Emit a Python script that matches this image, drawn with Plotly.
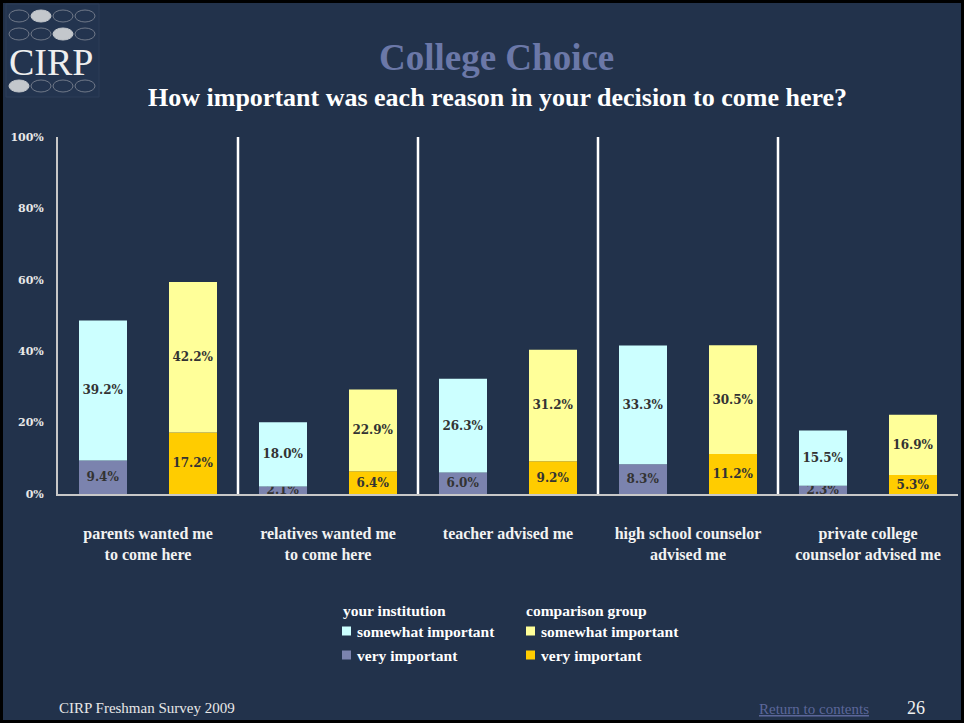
import plotly.graph_objects as go

categories = ["parents wanted me<br>to come here",
              "relatives wanted me<br>to come here",
              "teacher advised me",
              "high school counselor<br>advised me",
              "private college<br>counselor advised me"]
inst_very = [9.4, 2.1, 6.0, 8.3, 2.3]
inst_somewhat = [39.2, 18.0, 26.3, 33.3, 15.5]
comp_very = [17.2, 6.4, 9.2, 11.2, 5.3]
comp_somewhat = [42.2, 22.9, 31.2, 30.5, 16.9]
y_ticks = [0, 20, 40, 60, 80, 100]
y_ticktext = ["0%", "20%", "40%", "60%", "80%", "100%"]

BG = "#22324b"
C_CYAN = "#ccffff"
C_SLATE = "#7b83ae"
C_LYEL = "#ffff99"
C_GOLD = "#ffcc00"

W, H = 964, 723
L, R, T, B = 58, 6, 137, 229
PW, PH = W - L - R, H - T - B

def px(x):
    return (x - L) / PW

def py(y):
    return (H - B - y) / PH

n = len(categories)
xi = list(range(n))
x_inst = [i - 0.25 for i in xi]
x_comp = [i + 0.25 for i in xi]
bw = 48 / 180

lblfont = dict(family="DejaVu Serif", size=12, color="#333333", weight="bold")

def bar(x, y, base, color, name):
    return go.Bar(x=x, y=y, base=base, width=bw, marker=dict(color=color, line=dict(width=0)),
                  name=name, text=[f"{v:.1f}%" for v in y], textposition="inside",
                  insidetextanchor="middle", textangle=0, constraintext="none",
                  textfont=lblfont, showlegend=False, hoverinfo="skip", cliponaxis=True)

fig = go.Figure()
fig.add_trace(bar(x_inst, inst_very, [0]*n, C_SLATE, "your institution very important"))
fig.add_trace(bar(x_inst, inst_somewhat, inst_very, C_CYAN, "your institution somewhat important"))
fig.add_trace(bar(x_comp, comp_very, [0]*n, C_GOLD, "comparison group very important"))
fig.add_trace(bar(x_comp, comp_somewhat, comp_very, C_LYEL, "comparison group somewhat important"))

shapes = []
# separators
for i in range(n - 1):
    shapes.append(dict(type="line", xref="x", yref="y", x0=i + 0.5, x1=i + 0.5, y0=-0.5, y1=100,
                       line=dict(color="#ffffff", width=2.5), layer="above"))

# logo box
shapes.append(dict(type="rect", xref="paper", yref="paper", x0=px(6), x1=px(99), y0=py(97), y1=py(4),
                   fillcolor="#23344f", line=dict(color="#2c3c58", width=1), layer="below"))
oval_cols = [9, 31, 53, 75]
oval_rows = [10, 28, 80]
filled = {(0, 1), (1, 2), (2, 0)}
for r, yy in enumerate(oval_rows):
    for c, xx in enumerate(oval_cols):
        f = (r, c) in filled
        shapes.append(dict(type="circle", xref="paper", yref="paper",
                           x0=px(xx), x1=px(xx + 20), y0=py(yy + 12), y1=py(yy),
                           fillcolor="#c3c7cc" if f else "rgba(0,0,0,0)",
                           line=dict(color="#c3c7cc" if f else "#6f7888", width=1)))

# legend squares
leg = [(342, 631, C_CYAN), (342, 655, C_SLATE), (526, 631, C_LYEL), (526, 655, C_GOLD)]
for x0, yc, col in leg:
    shapes.append(dict(type="rect", xref="paper", yref="paper", x0=px(x0), x1=px(x0 + 9),
                       y0=py(yc + 4.5), y1=py(yc - 4.5), fillcolor=col, line=dict(width=0)))

# black border
shapes.append(dict(type="rect", xref="paper", yref="paper", x0=px(0), x1=px(W), y0=py(H), y1=py(0),
                   line=dict(color="#000000", width=6), fillcolor="rgba(0,0,0,0)"))

serif = "Liberation Serif"
ann = []
def text(x, y, s, size, color="#ffffff", bold=False, xanchor="center", fam=serif):
    ann.append(dict(xref="paper", yref="paper", x=px(x), y=py(y), text=s, showarrow=False,
                    xanchor=xanchor, yanchor="middle",
                    font=dict(family=fam, size=size, color=color, weight="bold" if bold else "normal")))

text(496, 58, "College Choice", 37, color="#6b78a8", bold=True)
text(497, 98, "How important was each reason in your decision to come here?", 26, bold=True)
text(51, 62, "CIRP", 38, color="#eeeeee")
text(341, 610, "your institution", 15.5, bold=True, xanchor="left")
text(355, 631, "somewhat important", 15.5, bold=True, xanchor="left")
text(355, 655, "very important", 15.5, bold=True, xanchor="left")
text(524, 610, "comparison group", 15.5, bold=True, xanchor="left")
text(539, 631, "somewhat important", 15.5, bold=True, xanchor="left")
text(539, 655, "very important", 15.5, bold=True, xanchor="left")
text(57, 708, "CIRP Freshman Survey 2009", 15, color="#e8e8e8", xanchor="left")
text(757, 709, "<u>Return to contents</u>", 15, color="#5c679a", xanchor="left")
text(905, 708, "26", 18, color="#f0f0f0", xanchor="left")

fig.update_layout(
    width=W, height=H, margin=dict(l=L, r=R, t=T, b=B),
    paper_bgcolor=BG, plot_bgcolor=BG, barmode="overlay",
    shapes=shapes, annotations=ann, showlegend=False,
    xaxis=dict(range=[-0.5, n - 0.5], tickvals=xi, ticktext=categories, showgrid=False,
               zeroline=False, showline=True, linecolor="#c8c8c8", linewidth=1.5,
               ticks="", ticklabelstandoff=24,
               tickfont=dict(family=serif, size=16, color="#f2f2f2", weight="bold")),
    yaxis=dict(range=[0, 100], tickvals=y_ticks, ticktext=y_ticktext, showgrid=False,
               zeroline=False, showline=True, linecolor="#c8c8c8", linewidth=2,
               ticks="", ticklabelstandoff=10,
               tickfont=dict(family="DejaVu Serif", size=11, color="#e8e8e8", weight="bold")),
)

fig.write_html("out.html", config={"displayModeBar": False},
               post_script="document.body.style.margin='0';document.body.style.overflow='hidden';")
